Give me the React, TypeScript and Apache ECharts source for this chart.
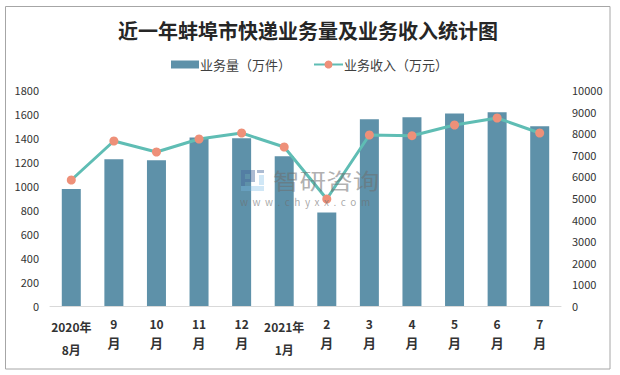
import React, { useEffect, useRef } from "react";
import * as echarts from "echarts";

const titleText = "近一年蚌埠市快递业务量及业务收入统计图";
const categories = ["2020年\n8月", "9\n月", "10\n月", "11\n月", "12\n月", "2021年\n1月", "2\n月", "3\n月", "4\n月", "5\n月", "6\n月", "7\n月"];
const volume = [975, 1222, 1214, 1405, 1397, 1247, 780, 1556, 1572, 1605, 1614, 1497];
const revenue = [5833, 7639, 7130, 7731, 8009, 7361, 4954, 7917, 7885, 8380, 8704, 8009];
const volumeName = "业务量（万件）";
const revenueName = "业务收入（万元）";

const SANS = '"Noto Sans CJK SC", sans-serif';
const plain = (v: number) => String(v);
const legendText = { fontFamily: SANS, fontSize: 13, color: "#404040", padding: [0, 0, 0, -4] };
const dark = "rgba(70,105,155,0.45)";
const light = "rgba(120,185,230,0.35)";
const logoRect = (x: number, y: number, width: number, height: number, fill: string) => ({
  type: "rect", silent: true, z: 100, shape: { x, y, width, height }, style: { fill },
});

export default function App() {
  const ref = useRef<HTMLDivElement>(null);
  useEffect(() => {
    const chart = echarts.init(ref.current!, null, { renderer: "svg" });
    chart.setOption({
      animation: false,
      backgroundColor: "#fff",
      grid: { left: 50, right: 59, top: 90, bottom: 69 },
      legend: [
        {
          top: 53,
          left: 166,
          itemWidth: 28,
          itemHeight: 8,
          textStyle: legendText,
          data: [{ name: volumeName, icon: "rect" }],
        },
        {
          top: 53,
          left: 308,
          itemWidth: 29,
          itemHeight: 10,
          textStyle: legendText,
          data: [{ name: revenueName }],
        },
      ],
      xAxis: {
        type: "category",
        data: categories,
        axisTick: { show: false },
        axisLine: { lineStyle: { color: "#d9d9d9", width: 1 } },
        axisLabel: {
          interval: 0,
          margin: 8,
          formatter: (v: string) => {
            const [a, b] = v.split("\n");
            return a.length > 2 ? `{w|${a}}\n{w|${b}}` : `{n|${a}}\n{m|${b}}`;
          },
          rich: {
            w: { fontFamily: SANS, fontSize: 12, fontWeight: "bold", color: "#333", lineHeight: 23, padding: [2, 0, 0, 0] },
            n: { fontFamily: SANS, fontSize: 12, fontWeight: "bold", color: "#333", lineHeight: 19 },
            m: { fontFamily: SANS, fontSize: 13, fontWeight: "bold", color: "#333", lineHeight: 19 },
          },
        },
      },
      yAxis: [
        {
          type: "value",
          min: 0,
          max: 1800,
          interval: 200,
          splitLine: { show: false },
          axisLine: { show: false },
          axisTick: { show: false },
          axisLabel: { fontFamily: SANS, fontSize: 11, color: "#333", margin: 11, formatter: plain },
        },
        {
          type: "value",
          min: 0,
          max: 10000,
          interval: 1000,
          splitLine: { show: false },
          axisLine: { show: false },
          axisTick: { show: false },
          axisLabel: { fontFamily: SANS, fontSize: 11, color: "#333", margin: 11, formatter: plain },
        },
      ],
      series: [
        {
          name: volumeName,
          type: "bar",
          data: volume,
          barWidth: 19,
          itemStyle: { color: "#5e91a9" },
        },
        {
          name: revenueName,
          type: "line",
          yAxisIndex: 1,
          data: revenue,
          symbol: "circle",
          symbolSize: 9,
          lineStyle: { color: "#5fbdb4", width: 3 },
          itemStyle: { color: "#ee9079", borderWidth: 0 },
        },
      ],
      graphic: [
        {
          type: "rect",
          silent: true,
          shape: { x: 5.5, y: 6.5, width: 604.5, height: 362.5 },
          style: { fill: "none", stroke: "#a6a6a6", lineWidth: 1 },
        },
        {
          type: "text",
          x: 308,
          y: 30,
          style: {
            text: titleText,
            align: "center",
            verticalAlign: "middle",
            font: `bold 20px ${SANS}`,
            fill: "#262626",
          },
        },
        {
          type: "text",
          x: 273,
          y: 180,
          scaleX: 1.21,
          z: 100,
          silent: true,
          style: {
            text: "智研咨询",
            verticalAlign: "middle",
            font: `22px ${SANS}`,
            fill: "rgba(110,110,110,0.55)",
          },
        },
        {
          type: "text",
          x: 240,
          y: 201,
          z: 100,
          silent: true,
          style: {
            text: "w  w  w  .  c  h  y  x  x  .  c  o  m",
            verticalAlign: "middle",
            font: `10px ${SANS}`,
            fill: "rgba(110,110,110,0.6)",
          },
        },
        logoRect(241, 170, 14, 4, dark),
        logoRect(241, 174, 4, 12, dark),
        logoRect(250, 174, 5, 8, dark),
        logoRect(245, 179, 5, 3, dark),
        logoRect(257, 170, 7, 3, dark),
        logoRect(259, 175, 5, 10, light),
        logoRect(241, 186, 23, 5, light),
      ],
    });
    return () => chart.dispose();
  }, []);
  return <div ref={ref} style={{ width: 620, height: 375, position: "absolute", left: 0, top: 0 }} />;
}
